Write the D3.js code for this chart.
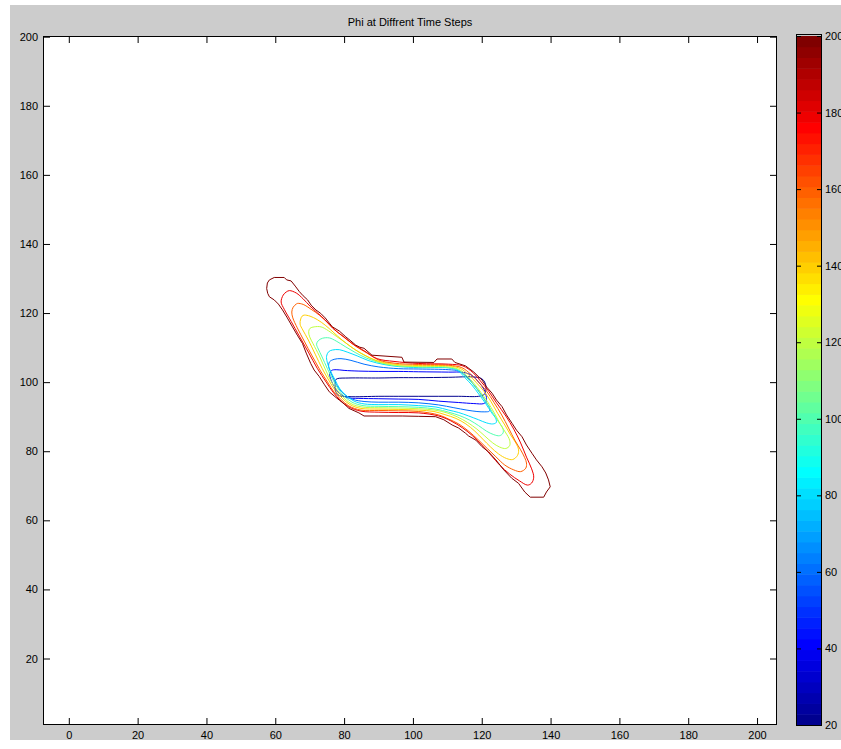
<!DOCTYPE html>
<html>
<head>
<meta charset="utf-8">
<script src="https://cdn.jsdelivr.net/npm/d3@7"></script>
<style>
  body { margin: 0; background: #ffffff; }
  svg { display: block; }
  text { font-family: "Liberation Sans", Arial, Helvetica, sans-serif; font-size: 11px; fill: #000; }
</style>
</head>
<body>
<svg id="chart" width="841" height="749"></svg>
<script>
// Zero level of phi (x, y) at each saved time step
const phiT20 = [[78.0,101.0],[81.4,101.2],[90.1,101.2],[95.9,101.3],[101.7,101.3],[110.4,101.4],[117.7,101.5],[120.0,101.0],[121.0,99.7],[121.2,97.7],[120.7,96.4],[119.1,95.9],[113.3,95.9],[107.5,95.9],[101.7,95.9],[95.9,95.9],[90.1,95.9],[81.4,95.8],[78.6,96.1],[77.5,97.4],[77.4,99.4],[77.5,100.6]];

const phiT40 = [[77.7,103.6],[80.0,103.4],[84.3,103.2],[90.1,103.1],[95.9,103.1],[101.7,103.0],[110.4,102.9],[114.8,102.8],[117.4,101.8],[119.1,100.0],[120.6,98.0],[121.3,96.0],[121.3,94.5],[120.6,93.8],[117.7,93.8],[113.3,94.1],[107.5,94.5],[101.7,95.0],[95.9,95.1],[90.1,95.2],[84.3,95.3],[80.9,95.5],[78.8,96.6],[77.4,98.3],[76.2,100.6],[75.8,102.4],[76.4,103.4]];

const phiT60 = [[77.1,106.6],[79.1,106.8],[82.0,106.3],[85.8,105.2],[90.1,104.4],[95.9,103.9],[101.7,103.8],[110.4,103.6],[113.3,103.2],[115.7,101.5],[117.7,99.2],[119.7,96.6],[121.4,94.0],[122.3,92.5],[122.2,91.6],[120.9,91.4],[118.6,91.5],[115.7,91.9],[111.9,92.6],[107.5,93.4],[101.7,94.0],[95.9,94.2],[90.1,94.2],[85.8,94.4],[82.6,95.0],[80.3,96.3],[78.6,98.0],[77.1,100.6],[76.1,102.9],[75.5,104.6],[75.8,105.9]];

const phiT80 = [[76.6,109.3],[78.6,109.4],[80.9,108.7],[83.8,107.6],[87.2,106.2],[91.6,105.1],[95.9,104.5],[101.7,104.2],[110.4,104.1],[113.0,103.4],[115.1,101.3],[117.1,99.2],[119.1,96.6],[121.2,93.7],[122.9,91.1],[124.1,89.4],[124.2,88.3],[123.2,87.9],[121.4,88.2],[119.1,89.1],[116.2,90.2],[113.3,91.2],[110.4,91.9],[106.7,92.8],[101.7,93.2],[95.9,93.5],[90.1,93.5],[85.8,93.7],[82.9,94.5],[80.6,96.1],[78.8,98.0],[77.4,100.6],[75.9,103.5],[75.1,105.8],[74.9,107.5],[75.5,108.8]];

const phiT100 = [[73.7,112.7],[75.7,112.8],[77.7,111.9],[80.3,110.3],[83.2,108.6],[86.4,107.0],[90.1,105.7],[94.5,104.8],[101.7,104.4],[110.4,104.2],[113.3,103.5],[115.4,101.5],[117.4,99.5],[119.4,96.9],[121.4,94.0],[123.2,91.1],[124.9,88.5],[126.1,86.7],[126.2,85.3],[125.2,84.5],[123.5,84.8],[121.4,85.8],[119.1,87.4],[116.5,89.0],[113.6,90.3],[110.4,91.3],[106.7,92.2],[101.7,92.7],[95.9,92.9],[90.1,93.0],[85.5,93.2],[82.3,94.2],[80.0,96.0],[78.3,98.0],[76.8,100.6],[75.1,104.0],[73.6,107.3],[72.5,109.6],[72.0,111.0],[72.5,112.0]];

const phiT120 = [[71.3,116.0],[73.3,116.0],[75.4,114.9],[77.7,113.3],[80.3,111.5],[83.2,109.4],[86.4,107.6],[89.6,106.0],[94.5,104.9],[101.7,104.5],[110.4,104.4],[113.6,103.6],[115.7,101.8],[117.7,99.7],[119.7,97.1],[121.7,94.3],[123.8,90.8],[125.5,87.6],[127.0,85.3],[128.1,83.2],[128.1,81.6],[127.0,80.8],[125.2,81.2],[123.2,82.4],[120.9,84.4],[118.6,86.4],[115.9,88.3],[113.0,89.9],[109.9,91.1],[106.4,91.9],[101.7,92.3],[95.9,92.5],[90.1,92.6],[85.2,92.8],[82.0,93.8],[79.7,95.7],[78.0,97.7],[76.2,100.3],[74.5,103.8],[72.8,107.6],[71.0,111.1],[70.0,113.1],[69.7,114.6],[70.1,115.6]];

const phiT140 = [[68.4,119.4],[70.1,119.1],[72.2,118.1],[74.5,116.5],[76.8,114.5],[79.4,112.2],[82.3,110.0],[85.5,108.0],[89.3,106.3],[94.5,105.2],[101.7,104.8],[110.4,104.7],[113.9,103.9],[116.2,102.1],[118.3,100.0],[120.6,97.4],[122.6,94.5],[124.6,91.0],[126.7,87.6],[128.4,84.7],[129.9,82.4],[130.7,80.4],[130.4,78.8],[129.0,77.6],[127.2,77.9],[124.9,79.2],[122.6,81.2],[120.3,83.5],[118.0,85.8],[115.4,87.9],[112.5,89.5],[109.3,90.6],[106.1,91.5],[101.7,91.9],[95.9,92.1],[90.1,92.2],[84.9,92.4],[81.7,93.5],[79.4,95.4],[77.4,97.6],[75.7,100.3],[73.6,104.0],[71.6,108.1],[69.6,112.2],[68.0,115.1],[67.2,116.8],[67.4,118.3],[67.8,119.1]];

const phiT160 = [[66.5,122.8],[68.1,122.5],[70.4,121.1],[72.8,119.4],[75.1,117.3],[77.7,114.8],[80.6,112.5],[83.5,110.3],[86.7,108.4],[90.1,106.4],[94.5,105.5],[101.7,105.1],[110.4,104.9],[114.2,104.2],[116.8,102.3],[118.8,100.3],[121.4,97.4],[123.5,94.2],[125.8,90.5],[127.8,86.7],[129.6,83.2],[131.3,80.4],[132.5,78.1],[133.0,76.6],[132.8,75.1],[131.3,74.1],[129.3,74.6],[126.7,76.0],[124.1,78.4],[121.7,80.7],[119.1,83.2],[116.2,85.8],[113.3,87.9],[110.4,89.3],[107.5,90.5],[101.7,91.5],[95.9,91.7],[90.1,91.8],[84.9,91.9],[81.4,93.1],[79.1,95.0],[77.1,97.1],[75.4,99.7],[73.0,103.5],[70.7,107.6],[68.4,111.9],[66.4,115.7],[65.1,118.6],[64.8,120.3],[65.2,121.7],[66.1,122.6]];

const phiT180 = [[64.1,126.5],[66.1,125.8],[68.1,124.1],[70.1,122.0],[72.2,120.1],[74.5,118.0],[76.8,115.5],[79.7,113.3],[82.6,111.0],[85.8,109.1],[89.6,106.8],[94.5,106.0],[101.7,105.4],[110.4,105.2],[114.5,104.7],[117.4,102.8],[119.4,100.6],[122.0,97.4],[124.3,94.0],[127.0,90.2],[129.3,86.4],[131.3,82.4],[133.0,78.3],[134.5,74.9],[135.1,72.5],[134.5,70.8],[133.3,70.2],[131.0,71.4],[128.1,73.4],[125.2,76.0],[122.9,78.6],[120.3,81.5],[117.4,84.4],[114.5,86.7],[111.0,88.8],[107.5,90.2],[101.7,91.1],[95.9,91.2],[90.1,91.3],[84.9,91.6],[81.4,92.8],[78.8,94.8],[76.8,97.1],[74.8,100.0],[72.2,104.0],[69.6,108.7],[67.0,113.3],[64.6,117.6],[62.6,121.1],[61.7,123.2],[62.3,125.2],[63.2,126.1]];

const phiT200 = [[85.8,109.8],[88.1,107.8],[96.8,107.2],[97.4,105.8],[106.1,105.7],[107.0,106.7],[111.3,106.7],[112.2,105.7],[115.3,104.7],[117.7,102.9],[120.1,100.6],[121.4,98.6],[123.0,96.8],[124.3,94.8],[125.9,92.9],[127.2,90.5],[128.8,88.1],[130.1,86.1],[131.7,84.2],[133.0,81.8],[134.6,79.4],[135.9,77.5],[137.5,75.5],[138.6,73.7],[139.4,71.7],[139.9,69.7],[138.8,68.2],[138.0,66.7],[134.1,66.7],[132.5,68.2],[130.7,70.7],[128.7,72.2],[126.4,74.6],[124.1,77.5],[122.0,79.8],[120.1,81.3],[118.3,83.2],[116.2,84.4],[115.3,85.2],[113.3,86.7],[111.4,87.6],[109.0,89.1],[106.6,90.0],[101.7,90.1],[96.9,90.2],[90.1,90.2],[85.8,90.2],[84.3,91.1],[81.4,92.4],[80.0,93.7],[78.6,94.8],[77.1,96.0],[75.7,97.2],[74.2,99.4],[72.8,101.6],[71.3,103.5],[70.3,105.4],[69.0,108.4],[67.9,111.2],[66.4,113.6],[65.0,116.0],[63.5,118.6],[62.1,120.9],[60.9,122.6],[59.7,123.8],[58.3,124.7],[57.8,125.7],[57.5,127.1],[57.7,128.7],[58.3,129.6],[59.7,130.3],[62.6,130.3],[63.3,129.6],[64.6,129.3],[65.8,127.8],[67.0,126.2],[68.1,125.0],[69.4,123.8],[70.4,122.3],[71.8,120.9],[73.2,119.9],[74.5,118.6],[75.7,117.1],[76.6,116.0],[78.6,114.8],[80.5,113.1],[82.0,111.9],[83.4,110.7],[84.6,110.1]];

const timeSteps = [20, 40, 60, 80, 100, 120, 140, 160, 180, 200];
const xTicks = [0, 20, 40, 60, 80, 100, 120, 140, 160, 180, 200];
const yTicks = [20, 40, 60, 80, 100, 120, 140, 160, 180, 200];
const colorbarTicks = [20, 40, 60, 80, 100, 120, 140, 160, 180, 200];
const titleText = "Phi at Diffrent Time Steps";

const contours = [phiT20, phiT40, phiT60, phiT80, phiT100, phiT120, phiT140, phiT160, phiT180, phiT200]
  .map((pts, i) => ({ step: timeSteps[i], pts }));

// MATLAB-style jet colormap with m entries
function jet(m) {
  const n = Math.ceil(m / 4);
  const u = [];
  for (let k = 1; k <= n; k++) u.push(k / n);
  for (let k = 1; k < n; k++) u.push(1);
  for (let k = n; k >= 1; k--) u.push(k / n);
  const g0 = Math.ceil(n / 2) - (m % 4 === 1 ? 1 : 0);
  const cols = Array.from({ length: m }, () => [0, 0, 0]);
  u.forEach((val, k) => {
    const g = g0 + k + 1, r = g + n, b = g - n;
    if (r >= 1 && r <= m) cols[r - 1][0] = val;
    if (g >= 1 && g <= m) cols[g - 1][1] = val;
    if (b >= 1 && b <= m) cols[b - 1][2] = val;
  });
  return cols.map(c => d3.rgb(c[0] * 255, c[1] * 255, c[2] * 255).formatHex());
}
const jet64 = jet(64);

const svg = d3.select("#chart");

// figure background
svg.append("rect").attr("x", 10).attr("y", 5).attr("width", 831).attr("height", 735).attr("fill", "#cccccc");

const plot = { left: 43, top: 36, right: 777, bottom: 725 };
const x = d3.scaleLinear().domain([-7.5, 205.8]).range([plot.left, plot.right]);
const y = d3.scaleLinear().domain([0.75, 200.2]).range([plot.bottom, plot.top]);
const color = d3.scaleQuantize().domain([20, 200]).range(jet64);

svg.append("rect")
  .attr("x", plot.left).attr("y", plot.top)
  .attr("width", plot.right - plot.left).attr("height", plot.bottom - plot.top)
  .attr("fill", "#ffffff");

svg.append("defs").append("clipPath").attr("id", "plotClip")
  .append("rect").attr("x", plot.left).attr("y", plot.top)
  .attr("width", plot.right - plot.left).attr("height", plot.bottom - plot.top);

const smooth = d3.line().x(d => x(d[0])).y(d => y(d[1])).curve(d3.curveCatmullRomClosed.alpha(0.5));
const jagged = d3.line().x(d => x(d[0])).y(d => y(d[1])).curve(d3.curveLinearClosed);

svg.append("g").attr("clip-path", "url(#plotClip)")
  .selectAll("path").data(contours).join("path")
  .attr("d", d => (d.step === 200 ? jagged : smooth)(d.pts))
  .attr("fill", "none")
  .attr("stroke", d => color(d.step))
  .attr("stroke-width", 1)
  .attr("stroke-linejoin", "round");

// axes with inward ticks on all four sides
function styleAxis(g) {
  g.select(".domain").remove();
  g.selectAll(".tick line").attr("stroke", "#000");
  g.selectAll("text").attr("fill", "#000").style("font-size", "11px");
}
svg.append("g").attr("transform", `translate(0,${plot.bottom})`)
  .call(d3.axisBottom(x).tickValues(xTicks).tickSizeInner(-7).tickSizeOuter(0).tickPadding(6))
  .call(styleAxis);
svg.append("g").attr("transform", `translate(0,${plot.top})`)
  .call(d3.axisTop(x).tickValues(xTicks).tickSizeInner(-7).tickSizeOuter(0).tickFormat(""))
  .call(styleAxis);
svg.append("g").attr("transform", `translate(${plot.left},0)`)
  .call(d3.axisLeft(y).tickValues(yTicks).tickSizeInner(-7).tickSizeOuter(0).tickPadding(5))
  .call(styleAxis);
svg.append("g").attr("transform", `translate(${plot.right},0)`)
  .call(d3.axisRight(y).tickValues(yTicks).tickSizeInner(-7).tickSizeOuter(0).tickFormat(""))
  .call(styleAxis);

svg.append("rect")
  .attr("x", plot.left + 0.5).attr("y", plot.top + 0.5)
  .attr("width", plot.right - plot.left - 1).attr("height", plot.bottom - plot.top - 1)
  .attr("fill", "none").attr("stroke", "#000").attr("stroke-width", 1);

// title
svg.append("text")
  .attr("x", (plot.left + plot.right) / 2).attr("y", 26)
  .attr("text-anchor", "middle")
  .text(titleText);

// colorbar
const cb = { left: 796, right: 822 };
const cbScale = d3.scaleLinear().domain([20, 200]).range([plot.bottom, plot.top]);
const bandStep = (200 - 20) / jet64.length;
svg.append("g").selectAll("rect").data(jet64).join("rect")
  .attr("x", cb.left)
  .attr("y", (c, i) => cbScale(20 + (i + 1) * bandStep))
  .attr("width", cb.right - cb.left)
  .attr("height", (c, i) => cbScale(20 + i * bandStep) - cbScale(20 + (i + 1) * bandStep) + 0.5)
  .attr("fill", c => c);

svg.append("g").attr("transform", `translate(${cb.right},0)`)
  .call(d3.axisRight(cbScale).tickValues(colorbarTicks).tickSizeInner(-5).tickSizeOuter(0).tickPadding(3))
  .call(styleAxis);
svg.append("g").attr("transform", `translate(${cb.left},0)`)
  .call(d3.axisLeft(cbScale).tickValues(colorbarTicks).tickSizeInner(-5).tickSizeOuter(0).tickFormat(""))
  .call(styleAxis);

svg.append("rect")
  .attr("x", cb.left + 0.5).attr("y", plot.top - 1.5)
  .attr("width", cb.right - cb.left - 1).attr("height", plot.bottom - plot.top + 2)
  .attr("fill", "none").attr("stroke", "#000").attr("stroke-width", 1);
</script>
</body>
</html>
